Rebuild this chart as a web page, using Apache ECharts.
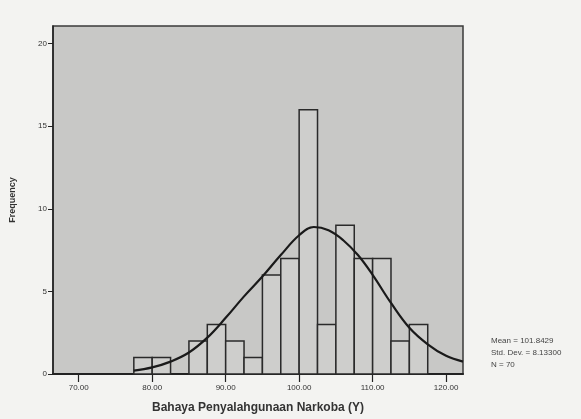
<!DOCTYPE html>
<html>
<head>
<meta charset="utf-8">
<script src="https://cdn.jsdelivr.net/npm/echarts@6/dist/echarts.min.js"></script>
<style>
  html, body { margin: 0; padding: 0; background: #f3f3f1; }
  #main { width: 581px; height: 419px; }
</style>
</head>
<body>
<div id="main"></div>
<script>
// histogram bins (lower edge), width 2.5
const binStarts = [77.5, 80, 85, 87.5, 90, 92.5, 95, 97.5, 100, 102.5, 105, 107.5, 110, 112.5, 115];
const binCounts = [1, 1, 2, 3, 2, 1, 6, 7, 16, 3, 9, 7, 7, 2, 3];
const binWidth = 2.5;

// normal curve
const curveX = [77.5, 80, 82.5, 85, 87.5, 90, 92.5, 95, 97.5, 100, 102, 104, 106, 108, 110, 112.5, 115, 117.5, 120, 122.3];
const curveY = [0.2, 0.4, 0.75, 1.3, 2.2, 3.4, 4.7, 5.9, 7.2, 8.4, 8.9, 8.7, 8.1, 7.2, 6.0, 4.3, 2.8, 1.8, 1.1, 0.75];

const xTicks = [70, 80, 90, 100, 110, 120];
const yTicks = [0, 5, 10, 15, 20];
const statLines = ['Mean = 101.8429', 'Std. Dev. = 8.13300', 'N = 70'];

const chart = echarts.init(document.getElementById('main'));

const barData = binStarts.map((s, i) => [s, s + binWidth, binCounts[i]]);
const lineData = curveX.map((x, i) => [x, curveY[i]]);

chart.setOption({
    animation: false,
    backgroundColor: '#f3f3f1',
    textStyle: { fontFamily: 'Liberation Sans, Arial, sans-serif' },
    grid: {
        left: 52,
        right: 118,
        top: 26,
        bottom: 40,
        show: true,
        backgroundColor: '#c8c8c6',
        borderColor: '#3a3a3a',
        borderWidth: 1.5
    },
    xAxis: {
        type: 'value',
        min: 66.5,
        max: 122.3,
        name: 'Bahaya Penyalahgunaan Narkoba (Y)',
        nameLocation: 'middle',
        nameGap: 28,
        nameTextStyle: { fontSize: 12, color: '#333', fontWeight: 'bold' },
        axisLine: { onZero: false, lineStyle: { color: '#222', width: 2 } },
        axisTick: { customValues: xTicks, length: 8, lineStyle: { color: '#222', width: 1.2 } },
        axisLabel: {
            customValues: xTicks,
            formatter: v => v.toFixed(2),
            fontSize: 8,
            color: '#333',
            margin: 10
        },
        splitLine: { show: false }
    },
    yAxis: {
        type: 'value',
        min: 0,
        max: 21.07,
        name: 'Frequency',
        nameLocation: 'middle',
        nameGap: 36,
        nameTextStyle: { fontSize: 9, color: '#333', fontWeight: 'bold' },
        axisLine: { show: true, lineStyle: { color: '#222', width: 1.5 } },
        axisTick: { customValues: yTicks, length: 5, lineStyle: { color: '#222' } },
        axisLabel: { customValues: yTicks, fontSize: 8, color: '#333', margin: 6 },
        splitLine: { show: false }
    },
    graphic: [{
        type: 'text',
        left: 491,
        top: 335,
        style: {
            text: statLines.join('\n'),
            fontSize: 8,
            lineHeight: 12,
            fill: '#444',
            fontFamily: 'Liberation Sans, Arial, sans-serif'
        }
    }],
    series: [
        {
            type: 'custom',
            data: barData,
            encode: { x: [0, 1], y: 2 },
            renderItem: function (params, api) {
                const p0 = api.coord([api.value(0), 0]);
                const p1 = api.coord([api.value(1), api.value(2)]);
                return {
                    type: 'rect',
                    shape: { x: p0[0], y: p1[1], width: p1[0] - p0[0], height: p0[1] - p1[1] },
                    style: { fill: '#cececc', stroke: '#2a2a2a', lineWidth: 1.5 }
                };
            },
            z: 2
        },
        {
            type: 'line',
            data: lineData,
            smooth: 0.4,
            showSymbol: false,
            lineStyle: { color: '#1a1a1a', width: 2.2 },
            z: 3
        }
    ]
});
</script>
</body>
</html>
